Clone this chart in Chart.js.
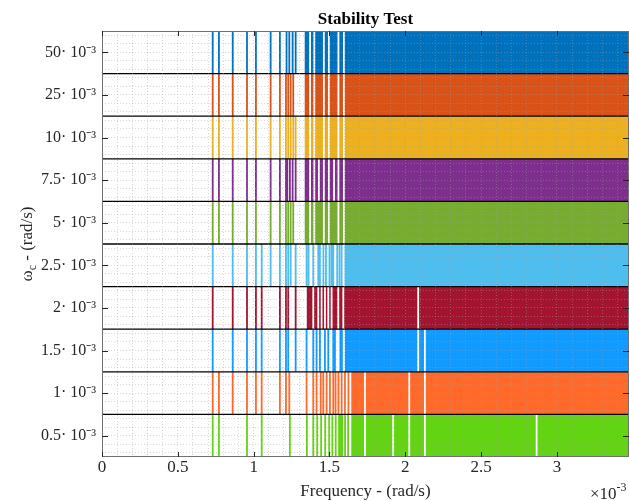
<!DOCTYPE html>
<html>
<head>
<meta charset="utf-8">
<script src="https://cdn.jsdelivr.net/npm/chart.js@4.4.0/dist/chart.umd.min.js"></script>
<style>
html,body{margin:0;padding:0;background:#fff;}
canvas{display:block;}
</style>
</head>
<body>
<canvas id="c" width="629" height="501"></canvas>
<script>
// ---------------- data (frequencies in units of 1e-3 rad/s) ----------------
const XMAX = 3.475;
const omegaLabels = ['0.5· 10⁻³','1· 10⁻³','1.5· 10⁻³','2· 10⁻³','2.5· 10⁻³','5· 10⁻³','7.5· 10⁻³','10· 10⁻³','25· 10⁻³','50· 10⁻³'];
const freqTicks = [0, 0.5, 1, 1.5, 2, 2.5, 3];

// omega_c = 0.5e-3
const lines0p5 = [0.730, 0.771, 0.956, 1.053, 1.239, 1.351, 1.393, 1.419, 1.445, 1.472, 1.498, 1.519, 1.541, 1.563, 1.575, 1.585, 1.603, 1.623];
const fill0p5 = 1.643;
const gaps0p5 = [1.734, 1.920, 2.026, 2.129, 2.866];
// omega_c = 1e-3
const lines1 = [0.730, 0.771, 0.862, 0.956, 1.015, 1.053, 1.173, 1.213, 1.235, 1.349, 1.393, 1.415, 1.442, 1.459, 1.481, 1.503, 1.525, 1.540, 1.559, 1.580, 1.602, 1.625];
const fill1 = 1.643;
const gaps1 = [1.734, 2.026, 2.129];
// omega_c = 1.5e-3
const lines1p5 = [0.730, 0.862, 0.956, 1.015, 1.053, 1.173, 1.213, 1.228, 1.277, 1.349, 1.393, 1.415, 1.437, 1.470, 1.492, 1.525, 1.536, 1.572, 1.582];
const fill1p5 = 1.600;
const gaps1p5 = [2.085, 2.129];
// omega_c = 2e-3
const lines2 = [0.730, 0.862, 0.956, 1.015, 1.053, 1.173, 1.213, 1.228, 1.277];
const fill2 = 1.349;
const gaps2 = [1.393, 1.426, 1.448, 1.470, 1.492, 1.514, 1.558, 1.591, 2.085];
// omega_c = 2.5e-3
const lines2p5 = [0.730, 0.862, 0.956, 1.015, 1.053, 1.112, 1.173, 1.213, 1.228, 1.244, 1.277, 1.349, 1.362, 1.393, 1.426, 1.437, 1.460, 1.477, 1.500, 1.514, 1.525, 1.551, 1.566, 1.580];
const fill2p5 = 1.598;
const gaps2p5 = [];
// omega_c = 5e-3
const lines5 = [0.730, 0.771, 0.862, 0.956, 1.015, 1.112, 1.173, 1.213, 1.228, 1.244, 1.261];
const fill5 = 1.335;
const gaps5 = [1.372, 1.400, 1.463, 1.496, 1.559, 1.595];
// omega_c = 7.5e-3
const lines7p5 = [0.730, 0.771, 0.862, 0.956, 1.015, 1.112, 1.173, 1.213, 1.222, 1.239, 1.257, 1.277];
const fill7p5 = 1.335;
const gaps7p5 = [1.372, 1.400, 1.430, 1.463, 1.496, 1.530, 1.559, 1.595];
// omega_c = 10e-3
const lines10 = [0.730, 0.771, 0.862, 0.956, 1.015, 1.112, 1.173, 1.213, 1.228, 1.244, 1.261, 1.277];
const fill10 = 1.335;
const gaps10 = [1.372, 1.400, 1.463, 1.496, 1.559, 1.595];
// omega_c = 25e-3
const lines25 = [0.730, 0.771, 0.862, 0.956, 1.015, 1.112, 1.173, 1.213, 1.228, 1.244, 1.261];
const fill25 = 1.335;
const gaps25 = [1.372, 1.400, 1.463, 1.496, 1.559, 1.595];
// omega_c = 50e-3
const lines50 = [0.730, 0.771, 0.862, 0.956, 1.015, 1.112, 1.173, 1.217, 1.235, 1.257, 1.277];
const fill50 = 1.335;
const gaps50 = [1.372, 1.400, 1.463, 1.496, 1.559, 1.595];

// ---------------- styles ----------------
const rowColors = ['rgb(99,212,18)','rgb(255,105,41)','rgb(18,155,255)','#A2142F','#4DBEEE','#77AC30','#7E2F8E','#EDB120','#D95319','#0072BD'];
const SERIF = '"Liberation Serif", "Times New Roman", serif';
const GRID = 'rgba(160,160,160,0.42)';

// ---------------- build datasets ----------------
const rows = [
  {lines: lines0p5, fillFrom: fill0p5, gaps: gaps0p5},
  {lines: lines1, fillFrom: fill1, gaps: gaps1},
  {lines: lines1p5, fillFrom: fill1p5, gaps: gaps1p5},
  {lines: lines2, fillFrom: fill2, gaps: gaps2},
  {lines: lines2p5, fillFrom: fill2p5, gaps: gaps2p5},
  {lines: lines5, fillFrom: fill5, gaps: gaps5},
  {lines: lines7p5, fillFrom: fill7p5, gaps: gaps7p5},
  {lines: lines10, fillFrom: fill10, gaps: gaps10},
  {lines: lines25, fillFrom: fill25, gaps: gaps25},
  {lines: lines50, fillFrom: fill50, gaps: gaps50}
];

function vlines(freqs, i) {
  const d = [];
  freqs.forEach(f => { d.push({x: f, y: i}, {x: f, y: i + 1}, {x: f, y: null}); });
  return d;
}

const datasets = [];
rows.forEach((r, i) => {
  const color = rowColors[i];
  datasets.push({
    label: 'band ' + omegaLabels[i],
    data: [{x: r.fillFrom, y: i + 1}, {x: XMAX, y: i + 1}],
    borderWidth: 0, borderColor: color, backgroundColor: color,
    pointRadius: 0, fill: {value: i}, order: 3
  });
  datasets.push({
    label: 'lines ' + omegaLabels[i],
    data: vlines(r.lines, i),
    borderWidth: 1.8, borderColor: color, pointRadius: 0,
    fill: false, spanGaps: false, order: 2
  });
  datasets.push({
    label: 'gaps ' + omegaLabels[i],
    data: vlines(r.gaps, i),
    borderWidth: 1.8, borderColor: '#ffffff', pointRadius: 0,
    fill: false, spanGaps: false, order: 1
  });
});
for (let k = 1; k < 10; k++) {
  datasets.push({
    label: 'sep' + k,
    data: [{x: 0, y: k}, {x: XMAX, y: k}],
    borderWidth: 1.3, borderColor: '#000000', pointRadius: 0, fill: false, order: 0
  });
}

// grid tick positions
const xGrid = [];
for (let k = 0; k <= 34; k++) xGrid.push(k / 10);
const yGrid = [];
for (let i = 0; i < 10; i++) [0.1, 0.3, 0.5, 0.7, 0.9].forEach(o => yGrid.push(i + o));

const decor = {
  id: 'decor',
  afterDraw(chart) {
    const {ctx, chartArea: a, scales} = chart;
    const x = scales.x, y = scales.y;
    ctx.save();
    const seg = (x1, y1, x2, y2) => { ctx.beginPath(); ctx.moveTo(x1, y1); ctx.lineTo(x2, y2); ctx.stroke(); };
    // box
    ctx.strokeStyle = '#707070';
    ctx.lineWidth = 1;
    ctx.strokeRect(a.left + 0.5, a.top + 0.5, a.right - a.left - 1, a.bottom - a.top - 1);
    // inward ticks
    ctx.strokeStyle = '#262626';
    freqTicks.forEach(v => {
      const px = Math.round(x.getPixelForValue(v)) + 0.5;
      seg(px, a.bottom, px, a.bottom - 5);
      seg(px, a.top, px, a.top + 5);
    });
    for (let i = 0; i < 10; i++) {
      const py = Math.round(y.getPixelForValue(i + 0.5)) + 0.5;
      seg(a.left, py, a.left + 6, py);
      seg(a.right, py, a.right - 6, py);
    }
    // y-axis title with subscript
    ctx.fillStyle = '#262626';
    ctx.translate(20, (a.top + a.bottom) / 2);
    ctx.rotate(-Math.PI / 2);
    const f1 = '17px ' + SERIF, f2 = '12px ' + SERIF;
    ctx.font = f1;
    const w1 = ctx.measureText('ω').width;
    const w3 = ctx.measureText(' - (rad/s)').width;
    ctx.font = f2;
    const w2 = ctx.measureText('c').width;
    let x0 = -(w1 + w2 + w3) / 2;
    ctx.textBaseline = 'alphabetic';
    ctx.font = f1; ctx.fillText('ω', x0, 12);
    ctx.font = f2; ctx.fillText('c', x0 + w1, 16);
    ctx.font = f1; ctx.fillText(' - (rad/s)', x0 + w1 + w2, 12);
    ctx.restore();
    // exponent label
    ctx.save();
    ctx.fillStyle = '#262626';
    ctx.textBaseline = 'alphabetic';
    ctx.font = '17px ' + SERIF;
    ctx.fillText('×10', 590, 499);
    const wx = ctx.measureText('×10').width;
    ctx.font = '12px ' + SERIF;
    ctx.fillText('-3', 590 + wx, 491);
    ctx.restore();
  }
};

new Chart(document.getElementById('c'), {
  type: 'line',
  data: {datasets},
  options: {
    responsive: false,
    animation: false,
    devicePixelRatio: 1,
    layout: {padding: 0},
    plugins: {
      legend: {display: false},
      tooltip: {enabled: false},
      title: {
        display: true, text: 'Stability Test', fullSize: false,
        color: '#000', font: {family: SERIF, size: 17, weight: 'bold'},
        padding: {top: 9, bottom: 1.6}
      }
    },
    scales: {
      x: {
        type: 'linear', min: 0, max: XMAX,
        afterBuildTicks: s => { s.ticks = xGrid.map(v => ({value: v})); },
        afterFit: s => { s.height = 44; },
        ticks: {
          autoSkip: false, maxRotation: 0, padding: 0, color: '#262626',
          font: {family: SERIF, size: 17},
          callback: v => freqTicks.some(t => Math.abs(t - v) < 1e-6) ? String(v) : ''
        },
        grid: {color: GRID, lineWidth: 1, drawTicks: false, z: 1},
        border: {display: false, dash: [1, 2]},
        title: {display: true, text: 'Frequency - (rad/s)', color: '#262626', font: {family: SERIF, size: 17}, padding: {top: 0, bottom: -1}}
      },
      y: {
        type: 'linear', min: 0, max: 10,
        afterBuildTicks: s => { s.ticks = yGrid.map(v => ({value: v})); },
        afterFit: s => { s.width = 102; },
        ticks: {
          autoSkip: false, padding: 6, color: '#262626',
          font: {family: SERIF, size: 16},
          callback: v => Math.abs((v % 1) - 0.5) < 1e-6 ? omegaLabels[Math.floor(v)] : ''
        },
        grid: {color: GRID, lineWidth: 1, drawTicks: false, z: 1},
        border: {display: false, dash: [1, 2]}
      }
    }
  },
  plugins: [decor]
});
</script>
</body>
</html>
